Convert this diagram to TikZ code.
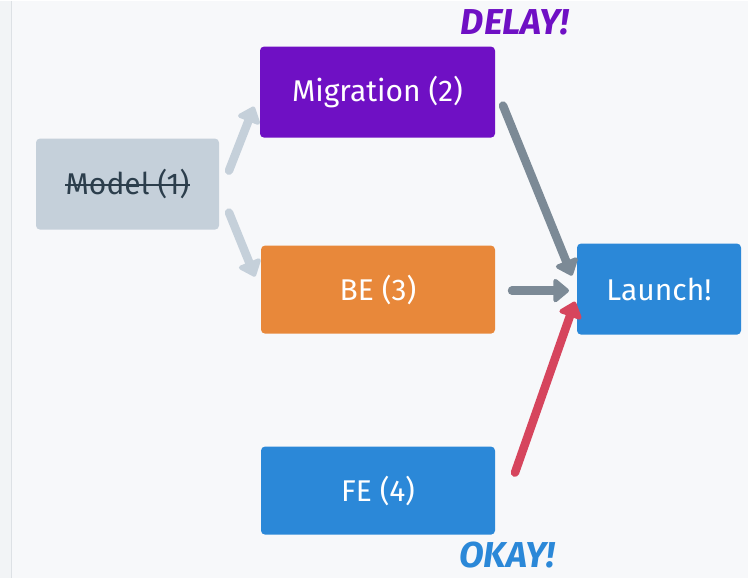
\documentclass[tikz,border=0pt]{standalone}
\usepackage{fontspec}
\setmainfont{Fira Sans}
\usetikzlibrary{arrows.meta}
\definecolor{bgc}{HTML}{F7F8FA}
\definecolor{stripc}{HTML}{F2F4F6}
\definecolor{borderc}{HTML}{DDE1E5}
\definecolor{modelc}{HTML}{C5D0DA}
\definecolor{modeltxt}{HTML}{2C3E4C}
\definecolor{purplec}{HTML}{6F10C4}
\definecolor{orangec}{HTML}{E8883A}
\definecolor{bluec}{HTML}{2B88D8}
\definecolor{grayc}{HTML}{7C8A96}
\definecolor{redc}{HTML}{D6455D}
\tikzset{
  box/.style={rounded corners=4pt, minimum width=#1, minimum height=90pt, inner sep=0pt,
    text=white, font=\fontsize{30}{34}\selectfont},
  conn/.style={line width=8.5pt, line cap=round,
    -{Triangle[round, length=17pt, width=27pt]}},
  shout/.style={font=\fontsize{36}{40}\selectfont\bfseries\itshape, inner sep=0pt,
    text depth=0pt, anchor=base}
}
\begin{document}
\begin{tikzpicture}[x=1pt,y=-1pt]
\fill[bgc] (0,0) rectangle (748,577);
\fill[stripc] (0,0) rectangle (11,577);
\draw[borderc, line width=1.2pt] (11.5,0) -- (11.5,577);
\useasboundingbox (0,0) rectangle (748,577);

\node[box=183pt, fill=modelc, minimum height=91pt] (model) at (127.5,183.5) {};
\node[text=modeltxt, font=\fontsize{30}{34}\selectfont, inner sep=0pt] (mtext) at (model.center) {Model (1)};
\draw[modeltxt, line width=2.2pt] ([yshift=-1pt]mtext.west) -- ([yshift=-1pt]mtext.east);

\node[box=235pt, fill=purplec, minimum height=91pt] (mig) at (377.5,91.5) {Migration (2)};
\node[box=234pt, fill=orangec, minimum height=88pt] (be) at (378,289) {BE (3)};
\node[box=234pt, fill=bluec, minimum height=88pt] (fe) at (378,490) {FE (4)};
\node[box=164pt, fill=bluec, minimum height=91pt] (launch) at (659,288.5) {Launch!};

\node[shout, text=purplec] (delay) at (515,34) {DELAY!};
\node[shout, text=bluec] (okay) at (507,567) {OKAY!};

\coordinate (a1s) at (229,170);
\coordinate (a1e) at (254,106);
\coordinate (a2s) at (229,212);
\coordinate (a2e) at (255,276);
\coordinate (a3s) at (503,105);
\coordinate (a3e) at (572,275);
\coordinate (a4s) at (512,290);
\coordinate (a4e) at (569,290);
\coordinate (a5s) at (515,472);
\coordinate (a5e) at (575,301);

\draw[conn, modelc] (a1s) -- (a1e);
\draw[conn, modelc] (a2s) -- (a2e);
\draw[conn, grayc] (a3s) -- (a3e);
\draw[conn, grayc] (a4s) -- (a4e);
\draw[conn, redc] (a5s) -- (a5e);
\end{tikzpicture}
\end{document}
